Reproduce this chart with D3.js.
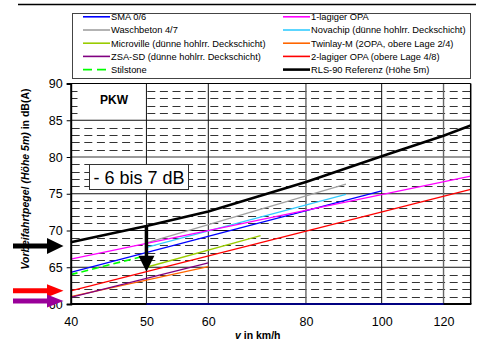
<!DOCTYPE html>
<html>
<head>
<meta charset="utf-8">
<script src="https://cdn.jsdelivr.net/npm/d3@7"></script>
<style>
  body { margin: 0; background: #fff; }
  svg { display: block; font-family: "Liberation Sans", Arial, sans-serif; }
</style>
</head>
<body>
<div id="chart"></div>
<script>
// speed v (km/h) / level L (dB(A)) pairs
const sma06      = [[40, 64.3], [100, 75.4]];
const waschbeton = [[50, 68.3], [90, 76.3]];
const microville = [[50, 65.0], [70, 69.3]];
const zsaSd      = [[40, 60.9], [60, 65.6]];
const stilstone  = [[40, 64.0], [50, 66.6]];
const opa1       = [[40, 66.1], [130, 77.4]];
const novachip   = [[50, 67.7], [90, 74.9]];
const twinlay    = [[40, 61.0], [60, 65.1]];
const opa2       = [[40, 61.8], [130, 75.6]];
const rls90      = [[40, 68.4], [50, 70.6], [60, 72.6], [80, 76.6], [100, 80.1], [120, 82.9], [130, 84.3]];
const smaTrace   = [[50, 60], [120, 60]]; // dark blue trace lying on the x axis

const legendLeft  = ['SMA 0/6', 'Waschbeton 4/7', 'Microville (dünne hohlrr. Deckschicht)', 'ZSA-SD (dünne hohlrr. Deckschicht)', 'Stilstone'];
const legendRight = ['1-lagiger OPA', 'Novachip (dünne hohlrr. Deckschicht)', 'Twinlay-M (2OPA, obere Lage 2/4)', '2-lagiger OPA (obere Lage 4/8)', 'RLS-90 Referenz (Höhe 5m)'];

const xTicks = [40, 50, 60, 80, 100, 120];
const yTicks = [60, 65, 70, 75, 80, 85, 90];
const yMinor = d3.range(61, 90).filter(d => d % 5 !== 0);

const reduction = [[50, 70.6], [50, 64.4]];   // "- 6 bis 7 dB" arrow
const refLevels = [67.9, 61.8, 60.4];         // arrows on the left

// styling
const style = {
  sma06:      { color: '#0000ff', w: 1.3 },
  waschbeton: { color: '#a0a0a0', w: 1.3 },
  microville: { color: '#99cc00', w: 1.3 },
  zsaSd:      { color: '#800080', w: 1.3 },
  stilstone:  { color: '#00ff00', w: 1.6, dash: '7,4' },
  opa1:       { color: '#ff00ff', w: 1.3 },
  novachip:   { color: '#33ccff', w: 1.3 },
  twinlay:    { color: '#ff6600', w: 1.3 },
  opa2:       { color: '#ff0000', w: 1.3 },
  rls90:      { color: '#000000', w: 2.6 }
};
const refColors = ['#000000', '#ff0000', '#990099'];

const W = 477, H = 341;
const svg = d3.select('#chart').append('svg').attr('width', W).attr('height', H);

const x = d3.scaleLog().domain([40, 130]).range([70.7, 470.7]);
const y = d3.scaleLinear().domain([60, 90]).range([304, 83.5]);
const x0 = x.range()[0], x1 = x.range()[1], y0 = y.range()[0], y1 = y.range()[1];

// top rule
svg.append('line').attr('x1', 18).attr('x2', 476).attr('y1', 4.5).attr('y2', 4.5)
  .attr('stroke', '#000').attr('stroke-width', 1.5);

// legend
const leg = svg.append('g');
leg.append('rect').attr('x', 72.5).attr('y', 13.5).attr('width', 398).attr('height', 65)
  .attr('fill', '#fff').attr('stroke', '#444').attr('stroke-width', 1);
const legKeysL = ['sma06', 'waschbeton', 'microville', 'zsaSd', 'stilstone'];
const legKeysR = ['opa1', 'novachip', 'twinlay', 'opa2', 'rls90'];
[[legendLeft, legKeysL, 83], [legendRight, legKeysR, 283]].forEach(([labels, keys, lx]) => {
  labels.forEach((t, i) => {
    const yy = 16.8 + i * 13.2;
    const s = style[keys[i]];
    leg.append('line').attr('x1', lx).attr('x2', lx + 27).attr('y1', yy).attr('y2', yy)
      .attr('stroke', s.color).attr('stroke-width', keys[i] === 'rls90' ? 2.6 : 1.6)
      .attr('stroke-dasharray', s.dash ? '9,5' : null);
    leg.append('text').attr('x', lx + 28).attr('y', yy + 3.4)
      .attr('font-size', 9.3).attr('fill', '#000').text(t);
  });
});

// plot area
const plot = svg.append('g');
plot.append('rect').attr('x', x0).attr('y', y1).attr('width', x1 - x0).attr('height', y0 - y1).attr('fill', '#fff');

// minor dashed grid
plot.selectAll('.minor').data(yMinor).enter().append('line')
  .attr('x1', x0 + 1).attr('x2', x1).attr('y1', d => Math.round(y(d)) + 0.5).attr('y2', d => Math.round(y(d)) + 0.5)
  .attr('stroke', '#333').attr('stroke-width', 1).attr('stroke-dasharray', '8,4.6');

// PKW box
plot.append('rect').attr('x', 77.5).attr('y', y(90) + 1).attr('width', x(50) - 78).attr('height', y(85) - y(90) - 1.5)
  .attr('fill', '#fff');
plot.append('text').attr('x', 114).attr('y', 104).attr('text-anchor', 'middle')
  .attr('font-size', 12).attr('font-weight', 'bold').text('PKW');

// major grid
plot.selectAll('.hmaj').data(yTicks.filter(d => d > 60 && d < 90)).enter().append('line')
  .attr('x1', x0).attr('x2', x1).attr('y1', d => y(d)).attr('y2', d => y(d))
  .attr('stroke', d => d === 80 ? '#777' : '#111').attr('stroke-width', d => d === 80 ? 1.4 : 1);
plot.selectAll('.vmaj').data(xTicks.filter(d => d > 40)).enter().append('line')
  .attr('x1', d => x(d)).attr('x2', d => x(d)).attr('y1', y1).attr('y2', y0)
  .attr('stroke', d => (d === 80 || d === 120) ? '#666' : '#111').attr('stroke-width', d => (d === 80 || d === 120) ? 1.4 : 1);

// series
svg.append('clipPath').attr('id', 'clip').append('rect')
  .attr('x', x0).attr('y', y1).attr('width', x1 - x0).attr('height', y0 - y1);
const line = d3.line().x(d => x(d[0])).y(d => y(d[1]));
const lines = plot.append('g').attr('clip-path', 'url(#clip)');
const order = [
  ['twinlay', twinlay], ['zsaSd', zsaSd], ['microville', microville], ['opa2', opa2],
  ['waschbeton', waschbeton], ['sma06', sma06], ['stilstone', stilstone], ['novachip', novachip],
  ['opa1', opa1], ['rls90', rls90]
];
order.forEach(([k, data]) => {
  const s = style[k];
  lines.append('path').datum(data).attr('d', line).attr('fill', 'none')
    .attr('stroke', s.color).attr('stroke-width', s.w)
    .attr('stroke-dasharray', s.dash || null);
});

// frame and axes
plot.append('line').attr('x1', x0).attr('x2', x1).attr('y1', y1).attr('y2', y1).attr('stroke', '#000').attr('stroke-width', 1.2);
plot.append('line').attr('x1', x1).attr('x2', x1).attr('y1', y1).attr('y2', y0).attr('stroke', '#000').attr('stroke-width', 1.5);
plot.append('line').attr('x1', x0).attr('x2', x1 + 0.7).attr('y1', y0).attr('y2', y0).attr('stroke', '#000').attr('stroke-width', 2);
plot.append('path').datum(smaTrace).attr('d', line).attr('stroke', '#000080').attr('stroke-width', 2).attr('fill', 'none');

const yAxis = svg.append('g').attr('transform', `translate(${x0},0)`)
  .call(d3.axisLeft(y).tickValues(yTicks).tickSize(4).tickPadding(4));
yAxis.select('.domain').attr('stroke-width', 2);
yAxis.selectAll('text').attr('font-size', 12.5).attr('font-family', '"Liberation Sans", Arial, sans-serif').attr('fill', '#000');

const xAxis = svg.append('g').attr('transform', `translate(0,${y0})`)
  .call(d3.axisBottom(x).tickValues(xTicks).tickFormat(d3.format('d')).tickSize(0).tickPadding(13));
xAxis.select('.domain').remove();
xAxis.selectAll('text').attr('font-size', 12.5).attr('font-family', '"Liberation Sans", Arial, sans-serif').attr('fill', '#000');

// axis titles
const xt = svg.append('text').attr('x', 235).attr('y', 338.5).attr('font-size', 10.5).attr('font-weight', 'bold');
xt.append('tspan').attr('font-style', 'italic').text('v');
xt.append('tspan').text('  in km/h');

const yt = svg.append('text').attr('transform', 'translate(29,179) rotate(-90)')
  .attr('text-anchor', 'middle').attr('font-size', 10.5).attr('font-weight', 'bold');
yt.append('tspan').attr('font-style', 'italic').text('Vorbeifahrtpegel (Höhe 5m)');
yt.append('tspan').text(' in dB(A)');

// annotation box
svg.append('rect').attr('x', 89.5).attr('y', 164.5).attr('width', 99).attr('height', 25)
  .attr('fill', '#fff').attr('stroke', '#333').attr('stroke-width', 1);
svg.append('text').attr('x', 139).attr('y', 183.5).attr('text-anchor', 'middle')
  .attr('font-size', 18).text('- 6 bis 7 dB');

// reduction arrow
const ax = x(reduction[0][0]), ay0 = y(reduction[0][1]), ay1 = y(reduction[1][1]);
svg.append('line').attr('x1', ax).attr('x2', ax).attr('y1', ay0).attr('y2', ay1 - 15)
  .attr('stroke', '#000').attr('stroke-width', 3.5);
svg.append('path').attr('d', `M${ax - 8},${ay1 - 16} L${ax + 8},${ay1 - 16} L${ax},${ay1} Z`).attr('fill', '#000');

// level arrows left of the axis
refLevels.forEach((v, i) => {
  const yy = y(v);
  const hh = i === 0 ? 8 : 6.5;
  svg.append('line').attr('x1', 13).attr('x2', 48).attr('y1', yy).attr('y2', yy)
    .attr('stroke', refColors[i]).attr('stroke-width', 5);
  svg.append('path').attr('d', `M47,${yy - hh} L63.5,${yy} L47,${yy + hh} Z`).attr('fill', refColors[i]);
});
</script>
</body>
</html>
